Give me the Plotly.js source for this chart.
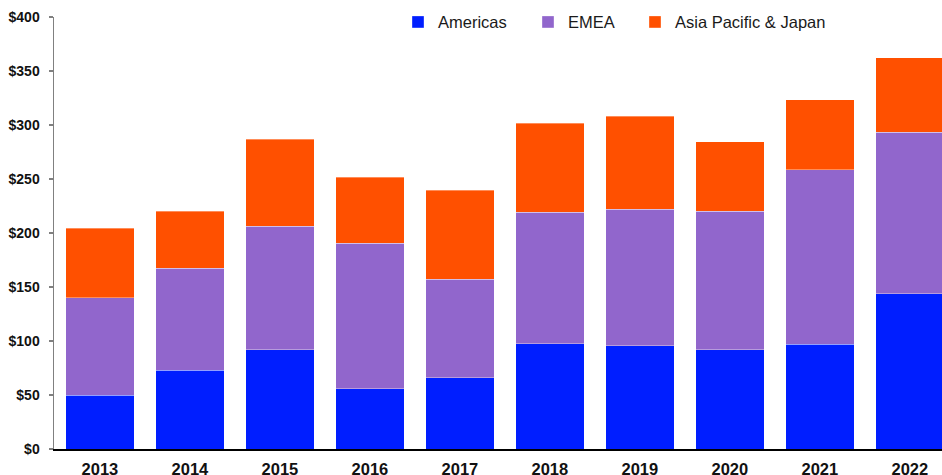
<!DOCTYPE html>
<html>
<head>
<meta charset="utf-8">
<script src="https://cdn.plot.ly/plotly-3.0.1.min.js"></script>
<style>html,body{margin:0;padding:0;background:#fff;}#chart{width:942px;height:475px;}</style>
</head>
<body>
<div id="chart"></div>
<script>
const years = ["2013","2014","2015","2016","2017","2018","2019","2020","2021","2022"];
const americas = [49.6, 72.7, 92.1, 56.0, 66.2, 97.6, 95.5, 92.1, 97.1, 143.6];
const emea     = [90.6, 94.7, 114.1, 134.5, 91.0, 121.5, 126.4, 128.0, 161.4, 149.5];
const apj      = [64.1, 52.7, 80.7, 61.0, 82.3, 82.3, 86.0, 64.3, 65.1, 69.4];
const yTicks = [0, 50, 100, 150, 200, 250, 300, 350, 400];
const yTickText = ["$0","$50","$100","$150","$200","$250","$300","$350","$400"];

const FONT = "Arial, 'Liberation Sans', sans-serif";
const edge = "rgba(255,255,255,0.35)";
const traces = [
  {type:"bar", name:"Americas", x:years, y:americas, marker:{color:"#001EFF", line:{color:edge, width:1}}, legend:"legend"},
  {type:"bar", name:"EMEA", x:years, y:emea, marker:{color:"#9166CC", line:{color:edge, width:1}}, legend:"legend2"},
  {type:"bar", name:"Asia Pacific & Japan", x:years, y:apj, marker:{color:"#FF5000", line:{color:edge, width:1}}, legend:"legend3"}
];
const legBase = {orientation:"h", yanchor:"middle", y:0.988, xanchor:"left", bgcolor:"rgba(0,0,0,0)",
  font:{family:FONT, size:16.5, color:"#1a1a1a"}};
const layout = {
  width:942, height:475,
  margin:{l:54, r:0, t:17, b:26, pad:0},
  paper_bgcolor:"#fff", plot_bgcolor:"#fff",
  barmode:"stack", bargap:0.237,
  showlegend:true,
  legend: Object.assign({}, legBase, {x:(398-54)/888}),
  legend2: Object.assign({}, legBase, {x:(528-54)/888}),
  legend3: Object.assign({}, legBase, {x:(635-54)/888}),
  xaxis:{type:"category", range:[-0.51, 9.357], showline:true, linecolor:"#000", linewidth:1.5,
    ticks:"", showgrid:false, zeroline:false, ticklabelstandoff:5,
    tickfont:{family:FONT, size:16.5, color:"#111", weight:"bold"}},
  yaxis:{range:[0,400], tickvals:yTicks, ticktext:yTickText, showline:true, linecolor:"#808080", linewidth:1.5,
    ticks:"outside", ticklen:4, tickcolor:"#808080", tickwidth:1.5, showgrid:false, zeroline:false,
    ticklabelstandoff:6, tickfont:{family:FONT, size:14, color:"#111", weight:"bold"}}
};
Plotly.newPlot("chart", traces, layout, {staticPlot:true, displayModeBar:false});
</script>
</body>
</html>
